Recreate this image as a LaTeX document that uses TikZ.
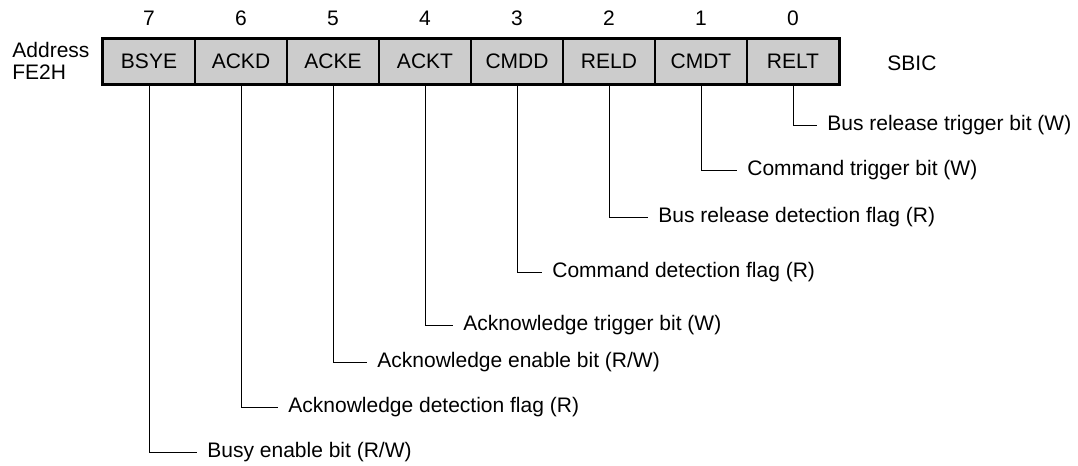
\documentclass[tikz,border=0pt]{standalone}
\usepackage{fontspec}
\setmainfont{Liberation Sans}
\begin{document}
\begin{tikzpicture}[x=0.5pt,y=-0.5pt,font=\fontsize{10.5}{12.6}\selectfont,
	cell/.style={draw,line width=0.8pt,fill=black!20,minimum width=46pt,minimum height=22.5pt,inner sep=0pt},
	lbl/.style={anchor=west,inner xsep=5pt,inner ysep=0pt},
	lead/.style={line width=0.5pt}]
				\useasboundingbox (0,0) rectangle (1078,466);
				% register cells
				\node[cell] (b7) at (149,61.5) {BSYE};
				\node[cell] (b6) at (241,61.5) {ACKD};
				\node[cell] (b5) at (333,61.5) {ACKE};
				\node[cell] (b4) at (425,61.5) {ACKT};
				\node[cell] (b3) at (517,61.5) {CMDD};
				\node[cell] (b2) at (609,61.5) {RELD};
				\node[cell] (b1) at (701,61.5) {CMDT};
				\node[cell] (b0) at (793,61.5) {RELT};
				\draw[line width=1.4pt] (b7.north west) rectangle (b0.south east);
				% bit numbers
				\node (n7) at (149,18) {7};
				\node (n6) at (241,18) {6};
				\node (n5) at (333,18) {5};
				\node (n4) at (425,18) {4};
				\node (n3) at (517,18) {3};
				\node (n2) at (609,18) {2};
				\node (n1) at (701,18) {1};
				\node (n0) at (793,18) {0};
				\node[anchor=west,align=left,inner sep=0pt,font=\fontsize{10.5}{11}\selectfont] (addr) at (12,61) {Address\\FE2H};
				\node[anchor=west,inner sep=0pt] (reg) at (887,63) {SBIC};
				% bit descriptions
				\node[lbl] (l7) at (197,452) {Busy enable bit (R/W)};
				\node[lbl] (l6) at (278,407) {Acknowledge detection flag (R)};
				\node[lbl] (l5) at (367,362) {Acknowledge enable bit (R/W)};
				\node[lbl] (l4) at (453,325) {Acknowledge trigger bit (W)};
				\node[lbl] (l3) at (542,272) {Command detection flag (R)};
				\node[lbl] (l2) at (648,217) {Bus release detection flag (R)};
				\node[lbl] (l1) at (737,170) {Command trigger bit (W)};
				\node[lbl] (l0) at (817,125) {Bus release trigger bit (W)};
				\draw[lead] (b7.south) |- (l7.west);
				\draw[lead] (b6.south) |- (l6.west);
				\draw[lead] (b5.south) |- (l5.west);
				\draw[lead] (b4.south) |- (l4.west);
				\draw[lead] (b3.south) |- (l3.west);
				\draw[lead] (b2.south) |- (l2.west);
				\draw[lead] (b1.south) |- (l1.west);
				\draw[lead] (b0.south) |- (l0.west);
				\end{tikzpicture}
\end{document}
